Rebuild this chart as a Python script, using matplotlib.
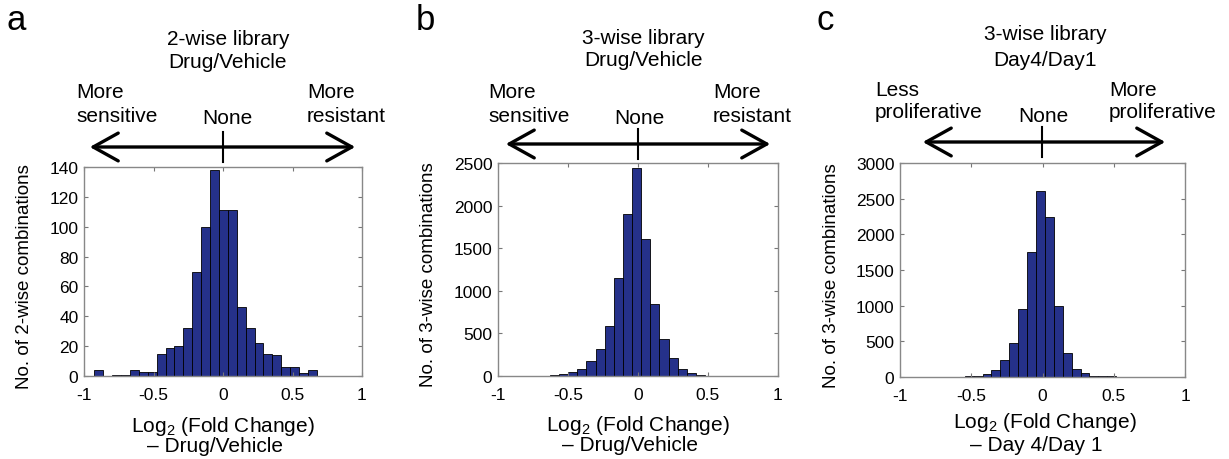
import numpy as np
import matplotlib
matplotlib.use("Agg")
import matplotlib.pyplot as plt
from matplotlib.patches import FancyArrowPatch
from matplotlib.lines import Line2D

plt.rcParams['font.family'] = ['Liberation Sans', 'DejaVu Sans']
plt.rcParams['mathtext.fontset'] = 'custom'
plt.rcParams['mathtext.rm'] = 'Liberation Sans'

W, H = 1229, 460

# datos (histogramas de 25 barras)
a_start, a_width = -0.925, 0.064
a_counts = [4, 0, 1, 1, 4, 3, 3, 15, 19, 20, 32, 70, 100, 138, 111, 111,
            46, 32, 22, 15, 14, 6, 6, 2, 4]

b_start, b_width = -0.955, 0.0652
b_counts = [3, 2, 2, 3, 4, 8, 22, 44, 83, 171, 317, 590, 1150, 1900, 2440,
            1610, 840, 440, 210, 83, 40, 14, 5, 1, 3]

c_start, c_width = -0.983, 0.0625
c_counts = [2, 2, 2, 0, 3, 4, 6, 10, 20, 38, 94, 240, 472, 960, 1750, 2610,
            2250, 1000, 330, 118, 52, 20, 12, 8, 5]

xticks = [-1, -0.5, 0, 0.5, 1]
xticklabels = ['-1', '-0.5', '0', '0.5', '1']
a_yticks = [0, 20, 40, 60, 80, 100, 120, 140]
b_yticks = [0, 500, 1000, 1500, 2000, 2500]
c_yticks = [0, 500, 1000, 1500, 2000, 2500, 3000]

fig = plt.figure(figsize=(W / 100, H / 100), dpi=100)


def fx(x):
    return x / W


def fy(y):
    return 1 - y / H


def texto(x, y, s, size=15, ha='center', va='center'):
    fig.text(fx(x), fy(y), s, fontsize=size, ha=ha, va=va)


def panel(box, start, width, counts, ylim, yticks, ylabel, labx):
    left, top, right, bottom = box
    ax = fig.add_axes([fx(left), fy(bottom), (right - left) / W, (bottom - top) / H])
    edges = start + width * np.arange(len(counts))
    ax.bar(edges, counts, width=width, align='edge', color='#25318a',
           edgecolor='black', linewidth=0.6)
    ax.set_xlim(-1, 1)
    ax.set_ylim(0, ylim)
    ax.set_xticks(xticks)
    ax.set_xticklabels(xticklabels)
    ax.set_yticks(yticks)
    ax.tick_params(direction='in', length=3, top=True, right=True,
                   labelsize=12.5, color='#777777')
    ax.tick_params(axis='x', pad=8)
    ax.tick_params(axis='y', pad=4)
    for s in ax.spines.values():
        s.set_color('#888888')
        s.set_linewidth(1.0)
    ax.set_ylabel(ylabel, fontsize=13.5)
    ax.yaxis.set_label_coords(labx, 0.48)
    return ax


def flecha(x0, x1, y, xt):
    arr = FancyArrowPatch((fx(x0), fy(y)), (fx(x1), fy(y)), transform=fig.transFigure,
                          arrowstyle='<->,head_length=0.9,head_width=0.5',
                          mutation_scale=20, linewidth=2.4, color='black')
    fig.add_artist(arr)
    fig.add_artist(Line2D([fx(xt), fx(xt)], [fy(y - 15), fy(y + 15)],
                          transform=fig.transFigure, color='black', linewidth=1.5))


# Panel a
panel((84, 168, 362, 377), a_start, a_width, a_counts, 140, a_yticks,
      'No. of 2-wise combinations', -0.185)
texto(16, 20, 'a', size=25)
texto(228, 40, '2-wise library')
texto(228, 62, 'Drug/Vehicle')
texto(76, 93, 'More', ha='left')
texto(76, 117, 'sensitive', ha='left')
texto(227, 119, 'None')
texto(307, 93, 'More', ha='left')
texto(307, 117, 'resistant', ha='left')
flecha(87, 358, 148, 223)
texto(223, 427, 'Log$_2$ (Fold Change)')
texto(147, 447, '\u2013 Drug/Vehicle', ha='left')

# Panel b
panel((498, 164, 778, 377), b_start, b_width, b_counts, 2500, b_yticks,
      'No. of 3-wise combinations', -0.218)
texto(425, 20, 'b', size=25)
texto(643, 38, '3-wise library')
texto(643, 61, 'Drug/Vehicle')
texto(488, 93, 'More', ha='left')
texto(488, 117, 'sensitive', ha='left')
texto(639, 118, 'None')
texto(713, 93, 'More', ha='left')
texto(713, 117, 'resistant', ha='left')
flecha(503, 773, 145, 638)
texto(638, 426, 'Log$_2$ (Fold Change)')
texto(562, 446, '\u2013 Drug/Vehicle', ha='left')

# Panel c
panel((900, 164, 1185, 378), c_start, c_width, c_counts, 3000, c_yticks,
      'No. of 3-wise combinations', -0.21)
texto(825, 20, 'c', size=25)
texto(1045, 35, '3-wise library')
texto(1045, 60, 'Day4/Day1')
texto(875, 90, 'Less', ha='left')
texto(875, 113, 'proliferative', ha='left')
texto(1043, 116, 'None')
texto(1109, 90, 'More', ha='left')
texto(1109, 113, 'proliferative', ha='left')
flecha(920, 1168, 143, 1042)
texto(1045, 423, 'Log$_2$ (Fold Change)')
texto(970, 446, '\u2013 Day 4/Day 1', ha='left')

fig.savefig('out.png', dpi=100)
